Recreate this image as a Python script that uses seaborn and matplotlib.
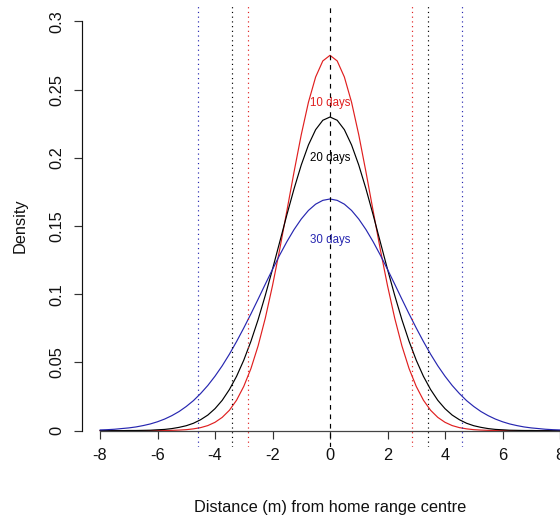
import matplotlib
matplotlib.use("Agg")
import matplotlib.pyplot as plt
import pandas as pd
import seaborn as sns

# ---- data ----
distance = [i * 0.25 for i in range(-32, 33)]  # grid from -8 to 8

density_10 = [0.0, 0.0, 0.0, 0.0, 0.0, 0.0, 0.0, 0.0,
              0.0001, 0.0001, 0.0002, 0.0004, 0.0007, 0.0013, 0.0022, 0.0037,
              0.0061, 0.0097, 0.0149, 0.0223, 0.0324, 0.0455, 0.0622, 0.0825,
              0.1063, 0.1328, 0.1611, 0.1897, 0.2169, 0.2407, 0.2592, 0.2710,
              0.2751,
              0.2710, 0.2592, 0.2407, 0.2169, 0.1897, 0.1611, 0.1328, 0.1063,
              0.0825, 0.0622, 0.0455, 0.0324, 0.0223, 0.0149, 0.0097, 0.0061,
              0.0037, 0.0022, 0.0013, 0.0007, 0.0004, 0.0002, 0.0001, 0.0001,
              0.0, 0.0, 0.0, 0.0, 0.0, 0.0, 0.0, 0.0]

density_20 = [0.0, 0.0, 0.0, 0.0, 0.0001, 0.0001, 0.0002, 0.0003,
              0.0006, 0.0009, 0.0015, 0.0024, 0.0036, 0.0054, 0.0080, 0.0114,
              0.0161, 0.0222, 0.0301, 0.0398, 0.0516, 0.0655, 0.0814, 0.0992,
              0.1183, 0.1382, 0.1582, 0.1773, 0.1947, 0.2094, 0.2206, 0.2275,
              0.2299,
              0.2275, 0.2206, 0.2094, 0.1947, 0.1773, 0.1582, 0.1382, 0.1183,
              0.0992, 0.0814, 0.0655, 0.0516, 0.0398, 0.0301, 0.0222, 0.0161,
              0.0114, 0.0080, 0.0054, 0.0036, 0.0024, 0.0015, 0.0009, 0.0006,
              0.0003, 0.0002, 0.0001, 0.0001, 0.0, 0.0, 0.0, 0.0]

density_30 = [0.0005, 0.0007, 0.0010, 0.0015, 0.0020, 0.0027, 0.0037, 0.0049,
              0.0065, 0.0085, 0.0110, 0.0140, 0.0177, 0.0220, 0.0272, 0.0331,
              0.0399, 0.0475, 0.0560, 0.0653, 0.0752, 0.0856, 0.0964, 0.1074,
              0.1182, 0.1287, 0.1385, 0.1474, 0.1551, 0.1614, 0.1660, 0.1688,
              0.1698,
              0.1688, 0.1660, 0.1614, 0.1551, 0.1474, 0.1385, 0.1287, 0.1182,
              0.1074, 0.0964, 0.0856, 0.0752, 0.0653, 0.0560, 0.0475, 0.0399,
              0.0331, 0.0272, 0.0220, 0.0177, 0.0140, 0.0110, 0.0085, 0.0065,
              0.0049, 0.0037, 0.0027, 0.0020, 0.0015, 0.0010, 0.0007, 0.0005]

series_names = ["10 days", "20 days", "30 days"]
interval_bounds = [2.84, 3.40, 4.60]        # +/- limits of dotted lines
label_heights = [0.24, 0.20, 0.14]          # y of the in-plot labels
x_ticks = [-8, -6, -4, -2, 0, 2, 4, 6, 8]
y_ticks = [0, 0.05, 0.10, 0.15, 0.20, 0.25, 0.30]
y_tick_labels = ["0", "0.05", "0.1", "0.15", "0.2", "0.25", "0.3"]

colors = {"10 days": "#e01f1f", "20 days": "#000000", "30 days": "#2626b0"}

df = pd.concat([
    pd.DataFrame({"distance": distance, "density": d, "series": name})
    for name, d in zip(series_names, [density_10, density_20, density_30])
], ignore_index=True)

# ---- drawing ----
sns.set_theme(style="white")
plt.rcParams["font.family"] = ["Liberation Sans", "DejaVu Sans"]

fig = plt.figure(figsize=(5.6, 5.19), dpi=100)
ax = fig.add_axes([81.6 / 560, (519 - 447) / 519, 496.8 / 560, 442 / 519])

sns.lineplot(data=df, x="distance", y="density", hue="series",
             hue_order=series_names, palette=colors, estimator=None,
             sort=False, linewidth=0.85, legend=False, ax=ax)

ax.axvline(0, color="black", linewidth=0.85, dashes=(4, 4))
for name, b in zip(series_names, interval_bounds):
    for s in (-1, 1):
        ax.axvline(s * b, color=colors[name], linewidth=0.85, dashes=(1, 3))

for name, h in zip(series_names, label_heights):
    ax.text(0, h, name, color=colors[name], fontsize=8.3,
            ha="center", va="center")

ax.set_xlim(-8.64, 8.64)
ax.set_ylim(-0.012, 0.312)

for sp in ("top", "right"):
    ax.spines[sp].set_visible(False)
ax.spines["left"].set_bounds(0, 0.3)
ax.spines["left"].set_color("#111111")
ax.spines["left"].set_linewidth(0.85)
ax.spines["bottom"].set_position(("data", 0))
ax.spines["bottom"].set_bounds(-8, 8)
ax.spines["bottom"].set_color("#444444")
ax.spines["bottom"].set_linewidth(0.9)

ax.set_xticks(x_ticks)
ax.set_xticklabels([str(t) for t in x_ticks])
ax.set_yticks(y_ticks)
ax.set_yticklabels(y_tick_labels, rotation=90, va="center")
ax.tick_params(axis="both", which="major", direction="out", length=5.5,
               width=0.85, labelsize=11.8, color="#333333",
               labelcolor="#111111", bottom=True, left=True)
ax.tick_params(axis="x", pad=7)
ax.tick_params(axis="y", pad=7)
ax.set_facecolor("white")
ax.grid(False)

ax.set_xlabel("Distance (m) from home range centre", fontsize=11.8,
              color="#111111")
ax.xaxis.set_label_coords(0.5, (447 - 507.5) / 442)
ax.xaxis.label.set_va("center")
ax.set_ylabel("Density", fontsize=11.8, color="#111111")
ax.yaxis.set_label_coords((20 - 81.6) / 496.8, 0.5)
ax.yaxis.label.set_va("center")

fig.savefig("out.png", dpi=100, facecolor="white")
